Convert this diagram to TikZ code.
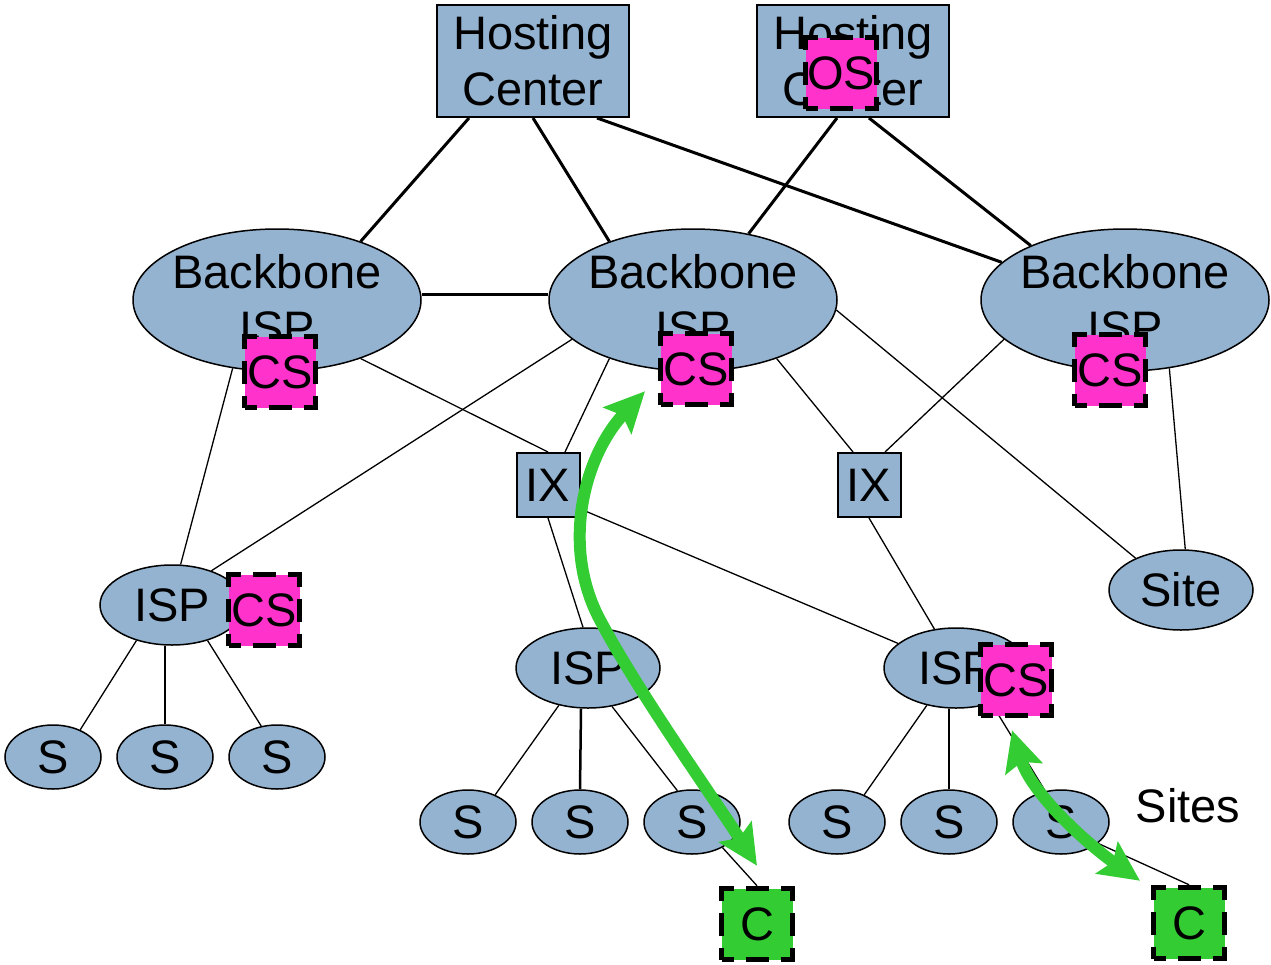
\documentclass[tikz,border=0pt]{standalone}
\usepackage{fontspec}
\setmainfont{Liberation Sans}
\usetikzlibrary{shapes.geometric,arrows.meta}
\pgfdeclarelayer{bg}
\pgfsetlayers{bg,main}
\definecolor{netblue}{RGB}{148,179,208}
\definecolor{cachepink}{RGB}{255,51,204}
\definecolor{clientgreen}{RGB}{51,204,51}

\begin{document}
\begin{tikzpicture}[x=1pt,y=-1pt,
  every node/.style={font=\fontsize{47}{56}\selectfont, inner sep=0pt},
  hostbox/.style={draw, line width=2pt, fill=netblue, minimum width=192pt, minimum height=112pt, align=center},
  ixbox/.style={draw, line width=2pt, fill=netblue, minimum width=63pt, minimum height=64pt},
  bbisp/.style={ellipse, draw, line width=1.5pt, fill=netblue, minimum width=288pt, minimum height=142pt},
  bbtext/.style={align=center},
  ispell/.style={ellipse, draw, line width=1.5pt, fill=netblue, minimum width=144pt, minimum height=80pt},
  siteell/.style={ellipse, draw, line width=1.5pt, fill=netblue, minimum width=96pt, minimum height=64pt},
  dashbox/.style={minimum width=71pt, minimum height=71pt, draw, line width=5.5pt,
    dash pattern=on 24pt off 12pt on 23pt off 12pt, dash phase=12pt},
  cachebox/.style={dashbox, fill=cachepink},
  clientbox/.style={dashbox, fill=clientgreen},
  trunk/.style={line width=3pt},
  link/.style={line width=1.3pt},
  drop/.style={line width=2.5pt},
  flowtip/.tip={Stealth[length=40pt,width=38pt,inset=7pt]},
  flow/.style={line width=12pt, clientgreen, flowtip-flowtip}
]
\useasboundingbox (0,0) rectangle (1271,964);

% hosting centers
\node[hostbox] (hc1) at (533,61) {Hosting\\Center};
\node[hostbox] (hc2) at (853,61) {Hosting\\Center};
\node[cachebox] (os) at (841,73) {OS};

% backbone ISPs
\node[bbisp] (bb1) at (277,300) {};
\node[bbisp] (bb2) at (693,300) {};
\node[bbisp] (bb3) at (1125,300) {};
\node[bbtext] (bb1t) at (bb1) {Backbone\\ISP};
\node[bbtext] (bb2t) at (bb2) {Backbone\\ISP};
\node[bbtext] (bb3t) at (bb3) {Backbone\\ISP};
\node[cachebox] (bb1cs) at (280,372) {CS};
\node[cachebox] (bb2cs) at (696,369) {CS};
\node[cachebox] (bb3cs) at (1110,370) {CS};

% exchanges
\node[ixbox] (ix1) at (548,485) {IX};
\node[ixbox] (ix2) at (869,485) {IX};

% regional ISPs and a site
\node[ispell] (ispl) at (172,605) {ISP};
\node[cachebox] (isplcs) at (264,610) {CS};
\node[ispell] (ispm) at (588,668) {ISP};
\node[ispell] (ispr) at (956,668) {ISP};
\node[cachebox] (isprcs) at (1016,680) {CS};
\node[ispell] (site) at (1181,590) {Site};

% end sites
\node[siteell] (s1) at (53,757) {S};
\node[siteell] (s2) at (165,757) {S};
\node[siteell] (s3) at (277,757) {S};
\node[siteell] (s4) at (468,822) {S};
\node[siteell] (s5) at (580,822) {S};
\node[siteell] (s6) at (692,822) {S};
\node[siteell] (s7) at (837,822) {S};
\node[siteell] (s8) at (949,822) {S};
\node[siteell] (s9) at (1061,822) {S};
\node (sites) at (1188,806) {Sites};

% clients
\node[clientbox] (c1) at (757,924) {C};
\node[clientbox] (c2) at (1189,923) {C};

\begin{pgfonlayer}{bg}
  % backbone trunks
  \draw[trunk] ([xshift=-64pt]hc1.south) -- (bb1.35);
  \draw[trunk] (hc1.south) -- (bb2.145);
  \draw[trunk] ([xshift=64pt]hc1.south) -- (bb3.163);
  \draw[trunk] ([xshift=-16pt]hc2.south) -- (bb2.50);
  \draw[trunk] ([xshift=16pt]hc2.south) -- (bb3.150);
  \draw[trunk] ([yshift=6pt]bb1.east) -- ([yshift=6pt]bb2.west);
  % access links
  \draw[link] (bb1.-35) -- (ix1.north);
  \draw[link] (bb1.-123) -- (ispl.78);
  \draw[link] (bb2.198) -- (ispl.41);
  \draw[link] (bb2.215) -- ([xshift=17pt]ix1.north);
  \draw[link] (bb2.-35) -- ([xshift=-16pt]ix2.north);
  \draw[link] (bb2.-4) -- (site.145);
  \draw[link] (bb3.198) -- ([xshift=16pt]ix2.north);
  \draw[link] (bb3.-57) -- (site.84);
  \draw[link] (ix1.south) -- (ispm.97);
  \draw[link] ([yshift=9pt]ix1.south east) -- (ispr.157);
  \draw[link] (ix2.south) -- (ispr.119);
  % site drops
  \draw[link] (ispl.-135) -- (s1.45);
  \draw[drop] ([xshift=-7pt]ispl.south) -- (s2.north);
  \draw[link] (ispl.-45) -- (s3.117);
  \draw[link] (ispm.-128) -- (s4.45);
  \draw[drop] ([xshift=-7pt]ispm.south) -- (s5.north);
  \draw[link] (ispm.-58) -- (s6.115);
  \draw[link] (ispr.-128) -- (s7.45);
  \draw[drop] ([xshift=-7pt]ispr.south) -- (s8.north);
  \draw[link] (ispr.-45) -- (s9.117);
  \draw[link] (s6.-40) -- (c1.north);
  \draw[link] (s9.-30) -- (c2.north);
\end{pgfonlayer}

% request flows
\coordinate (f1a) at ([shift={(-51,-16)}]bb2cs.south);
\coordinate (f1b) at ([shift={(0,-20)}]c1.north);
\coordinate (f2a) at ([shift={(-4,12)}]isprcs.south);
\coordinate (f2b) at ([shift={(-49,-4)}]c2.north);
\draw[flow] (f1a) .. controls (585,455) and (560,545) .. (600,620)
  .. controls (640,695) and (715,800) .. (f1b);
\draw[flow] (f2a) .. controls (1032,795) and (1090,846) .. (f2b);
\end{tikzpicture}
\end{document}
